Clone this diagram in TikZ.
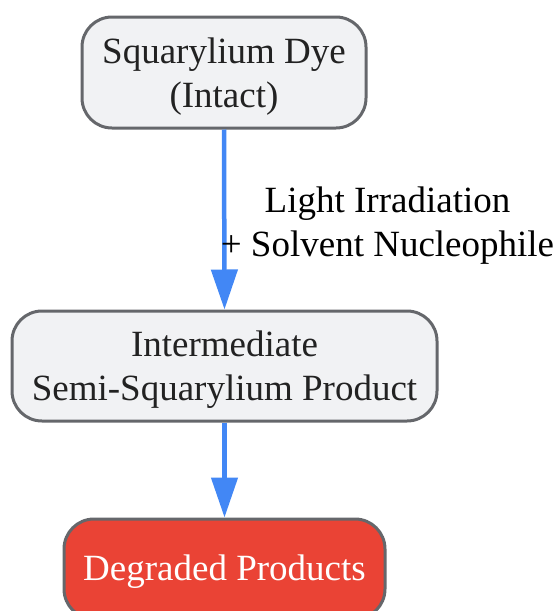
\documentclass[tikz,border=0pt]{standalone}
\usepackage{fontspec}
\setmainfont{Liberation Serif}
\usetikzlibrary{arrows.meta}
\definecolor{boxfill}{HTML}{F1F2F4}
\definecolor{boxline}{HTML}{65676B}
\definecolor{redfill}{HTML}{EA4335}
\definecolor{arrowblue}{HTML}{4287F5}
\definecolor{txt}{HTML}{222222}
\begin{document}
\begin{tikzpicture}[x=1pt,y=-1pt,
  box/.style={draw=boxline,line width=3pt,fill=boxfill,rounded corners=30pt,inner sep=0pt},
  boxtext/.style={align=center,text=txt,font=\fontsize{37}{44}\selectfont,inner sep=0pt},
  flow/.style={draw=arrowblue,line width=4.5pt,-{Triangle[width=26pt,length=40pt]}},
  lbl/.style={align=center,text=black,font=\fontsize{37}{44}\selectfont,inner sep=0pt}]
\useasboundingbox (0,0) rectangle (559,611);
\node[box,minimum width=284pt,minimum height=111pt] (a) at (224,72.5) {};
\node[boxtext] (at) at (224,76.5) {Squarylium Dye\\(Intact)};
\node[box,minimum width=425pt,minimum height=110pt] (b) at (224.5,366) {};
\node[boxtext] (bt) at (224.5,370) {Intermediate\\Semi-Squarylium Product};
\node[box,fill=redfill,minimum width=321pt,minimum height=100pt] (c) at (224.5,569) {};
\node[boxtext,text=white] (ct) at (224.5,572) {Degraded Products};
\draw[flow] (a.south) -- (b.north);
\draw[flow] (b.south) -- (c.north);
\node[lbl] (l) at (387.5,226) {Light Irradiation\\+ Solvent Nucleophile};
\end{tikzpicture}
\end{document}
